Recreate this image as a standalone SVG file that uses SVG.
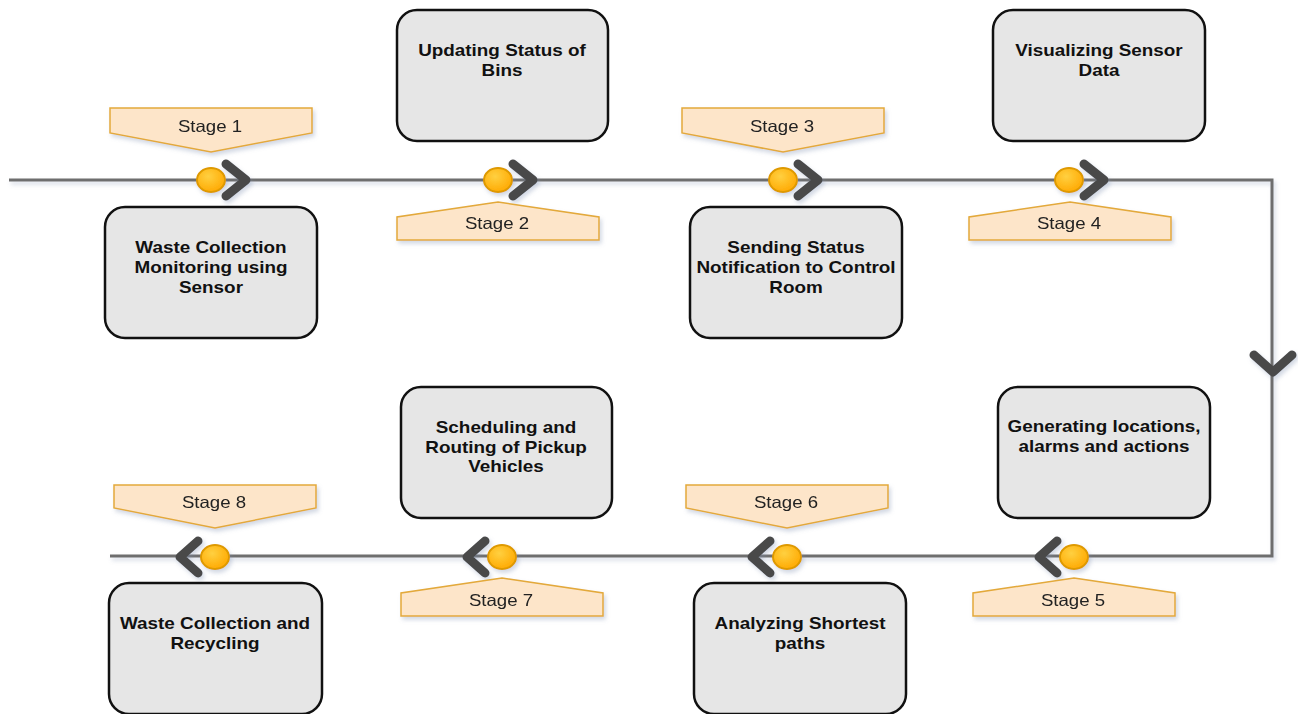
<svg xmlns="http://www.w3.org/2000/svg" width="1298" height="714" viewBox="0 0 1298 714">
<defs>
<filter id="sh" x="-20%" y="-20%" width="140%" height="160%">
<feDropShadow dx="2" dy="3" stdDeviation="2" flood-color="#8090b0" flood-opacity="0.35"/>
</filter>
<radialGradient id="dot" cx="0.4" cy="0.35" r="0.7">
<stop offset="0" stop-color="#ffd040"/>
<stop offset="1" stop-color="#ffa800"/>
</radialGradient>
<style>
.line{stroke:#6e6e6e;stroke-width:3;fill:none}
.node rect{fill:#e6e6e6;stroke:#111;stroke-width:2.5}
.node text{font-family:"Liberation Sans",Arial,sans-serif;font-weight:bold;font-size:16px;fill:#111;text-anchor:middle}
.tag polygon{fill:#fde5c9;stroke:#e3a93a;stroke-width:1.5}
.tag text{font-family:"Liberation Sans",Arial,sans-serif;font-size:16.5px;fill:#222;text-anchor:middle}
.chev{stroke:#4a4a4a;stroke-width:9;fill:none;stroke-linecap:round;stroke-linejoin:round}
.dot{fill:url(#dot);stroke:#de9a00;stroke-width:2}
</style>
</defs>
<rect width="1298" height="714" fill="#fff"/>
<g id="connectors" filter="url(#sh)">
<polyline class="line" points="9,180 1272,180 1272,556 110,556"/>
<path class="chev" d="M1254,355 L1273,372 L1292,355"/>
</g>
<g id="markers" filter="url(#sh)">
<path class="chev" d="M226,164 L246,180 L226,196"/>
<path class="chev" d="M513,164 L533,180 L513,196"/>
<path class="chev" d="M798,164 L818,180 L798,196"/>
<path class="chev" d="M1084,164 L1104,180 L1084,196"/>
<path class="chev" d="M198,541 L180,557 L198,573"/>
<path class="chev" d="M485,541 L467,557 L485,573"/>
<path class="chev" d="M770,541 L752,557 L770,573"/>
<path class="chev" d="M1057,541 L1039,557 L1057,573"/>
<ellipse class="dot" cx="211" cy="180" rx="14" ry="12"/>
<ellipse class="dot" cx="498" cy="180" rx="14" ry="12"/>
<ellipse class="dot" cx="783" cy="180" rx="14" ry="12"/>
<ellipse class="dot" cx="1069" cy="180" rx="14" ry="12"/>
<ellipse class="dot" cx="215" cy="557" rx="14" ry="12"/>
<ellipse class="dot" cx="502" cy="557" rx="14" ry="12"/>
<ellipse class="dot" cx="787" cy="557" rx="14" ry="12"/>
<ellipse class="dot" cx="1074" cy="557" rx="14" ry="12"/>
</g>
<g id="stage1" class="tag" filter="url(#sh)"><polygon points="110,108 312,108 312,133 211,152 110,133"/><text transform="translate(210,132) scale(1.13,1)">Stage 1</text></g>
<g id="stage2" class="tag" filter="url(#sh)"><polygon points="498,202 599,217 599,240 397,240 397,217"/><text transform="translate(497,229) scale(1.13,1)">Stage 2</text></g>
<g id="stage3" class="tag" filter="url(#sh)"><polygon points="682,108 884,108 884,133 783,152 682,133"/><text transform="translate(782,132) scale(1.13,1)">Stage 3</text></g>
<g id="stage4" class="tag" filter="url(#sh)"><polygon points="1070,202 1171,217 1171,240 969,240 969,217"/><text transform="translate(1069,229) scale(1.13,1)">Stage 4</text></g>
<g id="stage5" class="tag" filter="url(#sh)"><polygon points="1074,578 1175,593 1175,616 973,616 973,593"/><text transform="translate(1073,606) scale(1.13,1)">Stage 5</text></g>
<g id="stage6" class="tag" filter="url(#sh)"><polygon points="686,485 888,485 888,508 787,528 686,508"/><text transform="translate(786,508) scale(1.13,1)">Stage 6</text></g>
<g id="stage7" class="tag" filter="url(#sh)"><polygon points="502,578 603,593 603,616 401,616 401,593"/><text transform="translate(501,606) scale(1.13,1)">Stage 7</text></g>
<g id="stage8" class="tag" filter="url(#sh)"><polygon points="114,485 316,485 316,508 215,528 114,508"/><text transform="translate(214,508) scale(1.13,1)">Stage 8</text></g>
<g id="node1" class="node"><rect x="105" y="207" width="212" height="131" rx="20"/><text transform="translate(211,253) scale(1.18,1)">Waste Collection</text><text transform="translate(211,273) scale(1.18,1)">Monitoring using</text><text transform="translate(211,293) scale(1.18,1)">Sensor</text></g>
<g id="node2" class="node"><rect x="397" y="10" width="211" height="131" rx="20"/><text transform="translate(502,56) scale(1.18,1)">Updating Status of</text><text transform="translate(502,76) scale(1.18,1)">Bins</text></g>
<g id="node3" class="node"><rect x="690" y="207" width="212" height="131" rx="20"/><text transform="translate(796,253) scale(1.18,1)">Sending Status</text><text transform="translate(796,273) scale(1.18,1)">Notification to Control</text><text transform="translate(796,293) scale(1.18,1)">Room</text></g>
<g id="node4" class="node"><rect x="993" y="10" width="212" height="131" rx="20"/><text transform="translate(1099,56) scale(1.18,1)">Visualizing Sensor</text><text transform="translate(1099,76) scale(1.18,1)">Data</text></g>
<g id="node5" class="node"><rect x="998" y="387" width="212" height="131" rx="20"/><text transform="translate(1104,432) scale(1.18,1)">Generating locations,</text><text transform="translate(1104,452) scale(1.18,1)">alarms and actions</text></g>
<g id="node6" class="node"><rect x="694" y="583" width="212" height="131" rx="20"/><text transform="translate(800,629) scale(1.18,1)">Analyzing Shortest</text><text transform="translate(800,649) scale(1.18,1)">paths</text></g>
<g id="node7" class="node"><rect x="401" y="387" width="211" height="131" rx="20"/><text transform="translate(506,433) scale(1.18,1)">Scheduling and</text><text transform="translate(506,453) scale(1.18,1)">Routing of Pickup</text><text transform="translate(506,472) scale(1.18,1)">Vehicles</text></g>
<g id="node8" class="node"><rect x="109" y="583" width="213" height="131" rx="20"/><text transform="translate(215,629) scale(1.18,1)">Waste Collection and</text><text transform="translate(215,649) scale(1.18,1)">Recycling</text></g>
</svg>
